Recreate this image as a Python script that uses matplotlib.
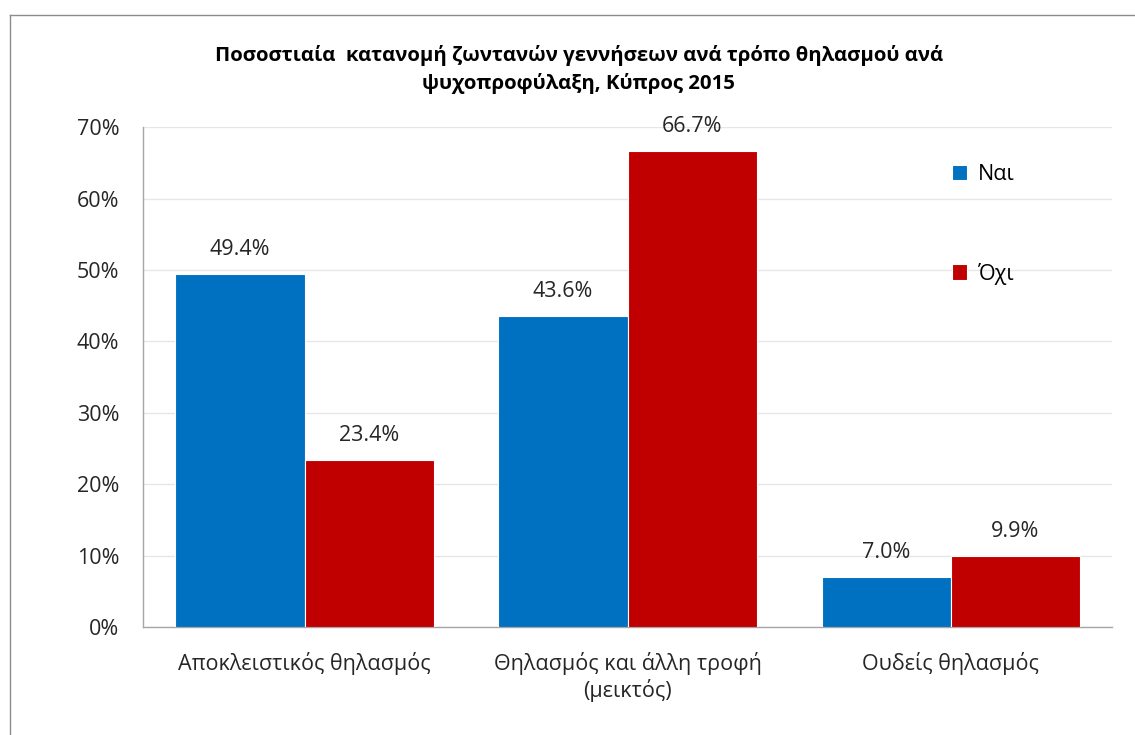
import numpy as np
import matplotlib.pyplot as plt
from matplotlib.ticker import PercentFormatter
from matplotlib.lines import Line2D

plt.rcParams['font.family'] = ['Open Sans', 'DejaVu Sans']

categories = ['Αποκλειστικός θηλασμός', 'Θηλασμός και άλλη τροφή\n(μεικτός)', 'Ουδείς θηλασμός']
nai = [49.4, 43.6, 7.0]
oxi = [23.4, 66.7, 9.9]
series_names = ['Ναι', 'Όχι']
colors = ['#0070C0', '#C00000']

fig = plt.figure(figsize=(11.35, 7.35), dpi=100)
ax = fig.add_axes([0.126, 0.147, 0.854, 0.680])

x = np.arange(len(categories))
w = 0.4
b1 = ax.bar(x - w/2, nai, w, color=colors[0], edgecolor='white', linewidth=0.8, label=series_names[0], zorder=3)
b2 = ax.bar(x + w/2, oxi, w, color=colors[1], edgecolor='white', linewidth=0.8, label=series_names[1], zorder=3)

for bars in (b1, b2):
    for rect in bars:
        h = rect.get_height()
        ax.annotate(f'{h:.1f}%', (rect.get_x() + rect.get_width()/2, h),
                    xytext=(0, 10), textcoords='offset points', ha='center', va='bottom',
                    fontsize=15.5, color='#262626')

ax.set_xlim(-0.5, 2.5)
ax.set_ylim(0, 70)
ax.set_yticks(np.arange(0, 71, 10))
ax.yaxis.set_major_formatter(PercentFormatter(decimals=0))
ax.set_xticks(x)
ax.set_xticklabels(categories)
ax.tick_params(axis='both', length=0, labelsize=15.5, colors='#262626')
ax.tick_params(axis='x', pad=18)
ax.tick_params(axis='y', pad=17)
ax.grid(axis='y', color='#e6e6e6', linewidth=1, zorder=0)
for s in ['top', 'right']:
    ax.spines[s].set_visible(False)
for s in ['left', 'bottom']:
    ax.spines[s].set_color('#a6a6a6')
    ax.spines[s].set_linewidth(1)

ax.legend(loc='upper left', bbox_to_anchor=(0.815, 0.965), frameon=False, fontsize=15.5,
          handlelength=0.7, handleheight=0.7, handletextpad=0.5, labelspacing=3.6)

fig.text(0.51, 0.905, 'Ποσοστιαία  κατανομή ζωντανών γεννήσεων ανά τρόπο θηλασμού ανά\nψυχοπροφύλαξη, Κύπρος 2015',
         ha='center', va='center', fontsize=14.7, fontweight='bold', linespacing=1.45)

# chart frame (left and top edge)
fig.add_artist(Line2D([10/1135, 10/1135], [0, 1 - 15/735], transform=fig.transFigure, color='#8c8c8c', linewidth=1))
fig.add_artist(Line2D([10/1135, 1], [1 - 15/735, 1 - 15/735], transform=fig.transFigure, color='#8c8c8c', linewidth=1))

fig.savefig('out.png', dpi=100)
